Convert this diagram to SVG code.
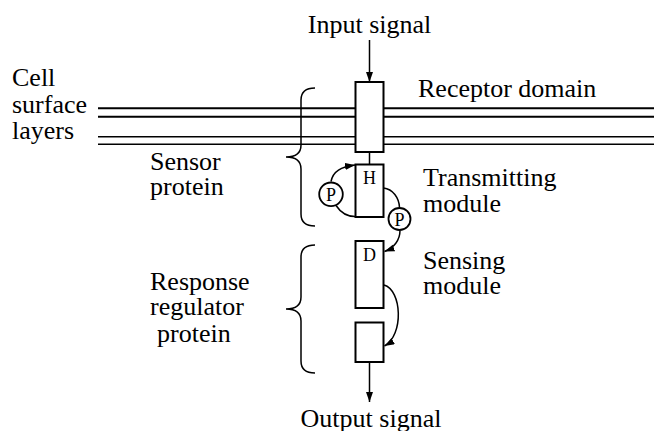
<svg xmlns="http://www.w3.org/2000/svg" width="654" height="431" viewBox="0 0 654 431">
<style>
text{font-family:"Liberation Serif","Tinos","Times New Roman","DejaVu Serif",serif;fill:#000}
.lbl{font-size:26px}
.sm{font-size:18px}
.box{fill:#fff;stroke:#000;stroke-width:2}
.mem{stroke:#000;fill:none}
.br{fill:none;stroke:#000;stroke-width:1.5}
.ar{fill:none;stroke:#000;stroke-width:1.5}
.pc{fill:#fff;stroke:#000;stroke-width:1.8}
</style>
<defs>
<marker id="ah" markerUnits="userSpaceOnUse" markerWidth="11" markerHeight="8" refX="10" refY="3.5" orient="auto">
<path d="M0,0 L10,3.5 L0,7 z" fill="#000"/>
</marker>
</defs>
<rect width="654" height="431" fill="#fff"/>
<g id="membrane">
<line class="mem" x1="98" y1="108.3" x2="654" y2="108.3" stroke-width="2"/>
<line class="mem" x1="98" y1="116.7" x2="654" y2="116.7" stroke-width="2"/>
<line class="mem" x1="98" y1="136.7" x2="654" y2="136.7" stroke-width="1.6"/>
<line class="mem" x1="98" y1="144.2" x2="654" y2="144.2" stroke-width="1.6"/>
</g>
<g id="braces">
<path class="br" d="M315,88 Q301,88 301,100 L301,145 Q301,157 286,157 Q301,157 301,169 L301,214 Q301,226 315,226"/>
<path class="br" d="M315,245 Q301,245 301,257 L301,297 Q301,309 286,309 Q301,309 301,321 L301,361 Q301,373 315,373"/>
</g>
<g id="connectors">
<line class="ar" x1="369.5" y1="40" x2="369.5" y2="82" marker-end="url(#ah)"/>
<line class="ar" x1="369.5" y1="152" x2="369.5" y2="164"/>
<path class="ar" d="M331,181.5 C333,171 341,167 355,165" marker-end="url(#ah)"/>
<path class="ar" d="M336,205.5 C341,213 347,216.5 355,216.5"/>
<path class="ar" d="M383.5,188 C393,189 399,198 399.5,207.5"/>
<path class="ar" d="M400,230.5 C400,240 394,248 384.5,251.5" marker-end="url(#ah)"/>
<path class="ar" d="M384,285 C402,290 404,335 384.5,346" marker-end="url(#ah)"/>
<line class="ar" x1="369.5" y1="362" x2="369.5" y2="402" marker-end="url(#ah)"/>
</g>
<g id="receptor">
<rect class="box" x="355.5" y="82" width="28" height="70"/>
</g>
<g id="transmitter">
<rect class="box" x="355.5" y="164.5" width="28" height="52.5"/>
<text class="sm" x="369.5" y="184" text-anchor="middle" font-family="Liberation Serif, serif">H</text>
</g>
<g id="p1">
<circle class="pc" cx="331" cy="194.3" r="11.8"/>
<text class="sm" x="331" y="200.8" text-anchor="middle" font-family="Liberation Serif, serif">P</text>
</g>
<g id="p2">
<circle class="pc" cx="399.5" cy="219" r="11"/>
<text class="sm" x="399.5" y="225.5" text-anchor="middle" font-family="Liberation Serif, serif">P</text>
</g>
<g id="receiver">
<rect class="box" x="355.5" y="241" width="28" height="67"/>
<text class="sm" x="369.5" y="261" text-anchor="middle" font-family="Liberation Serif, serif">D</text>
</g>
<g id="output-domain">
<rect class="box" x="355.5" y="322.5" width="28" height="39.5"/>
</g>
<g id="labels" font-family="Liberation Serif, serif">
<text class="lbl" x="369.5" y="33" text-anchor="middle">Input signal</text>
<text class="lbl" x="371" y="426.5" text-anchor="middle">Output signal</text>
<text class="lbl" x="12" y="86">Cell</text>
<text class="lbl" x="12" y="113">surface</text>
<text class="lbl" x="12" y="138.5">layers</text>
<text class="lbl" x="418" y="96.5">Receptor domain</text>
<text class="lbl" x="150" y="169.5">Sensor</text>
<text class="lbl" x="150" y="195">protein</text>
<text class="lbl" x="423" y="186">Transmitting</text>
<text class="lbl" x="423" y="211.5">module</text>
<text class="lbl" x="423" y="268.5">Sensing</text>
<text class="lbl" x="423" y="294">module</text>
<text class="lbl" x="150" y="290">Response</text>
<text class="lbl" x="150" y="315">regulator</text>
<text class="lbl" x="157" y="341.5">protein</text>
</g>
</svg>
